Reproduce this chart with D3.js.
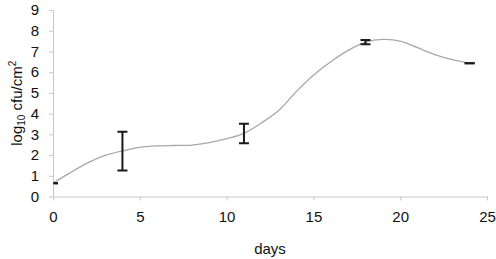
<!DOCTYPE html>
<html>
<head>
<meta charset="utf-8">
<script src="https://cdn.jsdelivr.net/npm/d3@7"></script>
<style>
  body { margin: 0; background: #fff; }
  svg { display: block; font-family: "Liberation Sans", Arial, sans-serif; }
</style>
</head>
<body>
<div id="chart"></div>
<script>
"use strict";

// growth curve
const days = [0, 1, 2, 3, 4, 5, 6, 7, 8, 9, 10, 11, 12, 13, 14, 15, 16, 17, 18, 19, 20, 21, 22, 23, 24];
const logCfu = [0.64, 1.15, 1.62, 1.98, 2.2, 2.37, 2.44, 2.46, 2.48, 2.6, 2.79, 3.05, 3.55, 4.15, 5.05, 5.85, 6.5, 7.05, 7.45, 7.58, 7.5, 7.18, 6.85, 6.6, 6.43];

// error bars
const errDays = [0, 4, 11, 18, 24];
const errMean = [0.64, 2.19, 3.04, 7.45, 6.43];
const errSize = [0, 0.94, 0.47, 0.1, 0];

const xTicks = [0, 5, 10, 15, 20, 25];
const yTicks = [0, 1, 2, 3, 4, 5, 6, 7, 8, 9];

const width = 496, height = 259;
const margin = { top: 10, right: 9, bottom: 62.5, left: 53 };
const w = width - margin.left - margin.right,
    h = height - margin.top - margin.bottom;

const svg = d3.select("#chart")
    .append("svg")
    .attr("width", width)
    .attr("height", height);

const x = d3.scaleLinear().domain([0, 25]).range([0, w]);
const y = d3.scaleLinear().domain([0, 9]).range([h, 0]);

const g = svg.append("g")
    .attr("transform", "translate(" + margin.left + "," + margin.top + ")");

// axes
const xAxis = g.append("g")
    .attr("transform", "translate(0," + h + ")")
    .call(d3.axisBottom(x).tickValues(xTicks).tickSizeOuter(0).tickSizeInner(4).tickPadding(11));
const yAxis = g.append("g")
    .call(d3.axisLeft(y).tickValues(yTicks).tickSizeOuter(0).tickSizeInner(4).tickPadding(10));

[xAxis, yAxis].forEach(function (a) {
    a.select(".domain").attr("stroke", "#c8c8c8");
    a.selectAll(".tick line").attr("stroke", "#c8c8c8");
    a.selectAll(".tick text")
        .attr("fill", "#111")
        .style("font-size", "15px")
        .style("font-family", "'Liberation Sans', Arial, sans-serif");
});

g.append("clipPath").attr("id", "plot-clip")
    .append("rect").attr("x", 0.5).attr("y", -5).attr("width", w + 5).attr("height", h + 5);

const data = days.map(function (d, i) { return { day: d, v: logCfu[i] }; });

const line = d3.line()
    .x(function (d) { return x(d.day); })
    .y(function (d) { return y(d.v); })
    .curve(d3.curveCatmullRom.alpha(0.5));

g.append("path")
    .datum(data)
    .attr("fill", "none")
    .attr("stroke", "#a8a8a8")
    .attr("stroke-width", 1.3)
    .attr("d", line);

// error bars
const errData = errDays.map(function (d, i) {
    return { day: d, lo: errMean[i] - errSize[i], hi: errMean[i] + errSize[i] };
});
const eb = g.append("g")
    .attr("clip-path", "url(#plot-clip)")
    .selectAll("g")
    .data(errData)
    .enter()
    .append("g")
    .attr("stroke", "#1a1a1a")
    .attr("stroke-width", 2);

eb.append("line")
    .attr("x1", function (d) { return x(d.day); })
    .attr("x2", function (d) { return x(d.day); })
    .attr("y1", function (d) { return y(d.hi); })
    .attr("y2", function (d) { return y(d.lo); });
eb.append("line")
    .attr("x1", function (d) { return x(d.day) - 5; })
    .attr("x2", function (d) { return x(d.day) + 5; })
    .attr("y1", function (d) { return y(d.hi); })
    .attr("y2", function (d) { return y(d.hi); });
eb.append("line")
    .attr("x1", function (d) { return x(d.day) - 5; })
    .attr("x2", function (d) { return x(d.day) + 5; })
    .attr("y1", function (d) { return y(d.lo); })
    .attr("y2", function (d) { return y(d.lo); });

// axis titles
g.append("text")
    .attr("x", w / 2)
    .attr("y", h + 57.5)
    .attr("text-anchor", "middle")
    .attr("fill", "#111")
    .style("font-size", "15px")
    .text("days");

const yTitle = g.append("text")
    .attr("transform", "translate(" + (-31) + "," + (h / 2) + ") rotate(-90)")
    .attr("text-anchor", "middle")
    .attr("fill", "#111")
    .style("font-size", "15px");
yTitle.append("tspan").text("log");
yTitle.append("tspan").attr("dy", 3).style("font-size", "10px").text("10");
yTitle.append("tspan").attr("dy", -3).text(" cfu/cm");
yTitle.append("tspan").attr("dy", -6).style("font-size", "10px").text("2");
</script>
</body>
</html>
